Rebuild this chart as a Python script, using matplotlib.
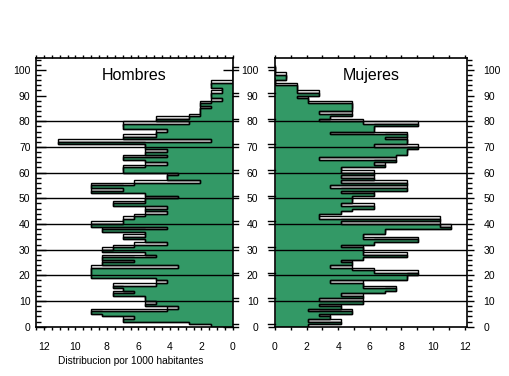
import numpy as np
import matplotlib.pyplot as plt
import matplotlib.transforms as mtransforms
from matplotlib.ticker import MultipleLocator

plt.rcParams['font.family'] = ['Liberation Sans', 'DejaVu Sans']

GREEN = '#339966'
UNIT = 0.695          # one person, per 1000 inhabitants

ages = np.arange(0, 101)

# counts per single year of age (0..100), drawn as value = count * UNIT
hombres = [2, 4, 10, 9, 12, 13, 6, 5, 8, 7,
           8, 8, 11, 9, 10, 11, 7, 6, 7, 13,
           13, 13, 13, 5, 12, 9, 12, 7, 8, 12,
           11, 9, 6, 8, 10, 8, 8, 12, 6, 13,
           10, 10, 9, 8, 6, 8, 6, 11, 8, 8,
           5, 8, 13, 10, 13, 9, 3, 6, 6, 5,
           10, 10, 8, 6, 8, 10, 6, 8, 6, 8,
           8, 16, 2, 10, 7, 7, 6, 10, 10, 4,
           7, 4, 3, 3, 3, 2, 3, 2, 1, 2,
           2, 1, 1, 2, 2, 0, 0, 0, 0, 0, 0]
mujeres = [3, 6, 3, 5, 4, 7, 3, 6, 4, 8,
           4, 8, 6, 10, 11, 8, 8, 5, 12, 12,
           13, 9, 7, 5, 7, 6, 8, 12, 8, 8,
           8, 6, 9, 13, 8, 8, 10, 10, 16, 15,
           6, 15, 4, 4, 6, 7, 9, 6, 7, 7,
           7, 9, 6, 12, 5, 12, 6, 9, 6, 9,
           6, 6, 10, 9, 11, 4, 11, 12, 12, 13,
           9, 12, 12, 10, 12, 5, 9, 9, 13, 8,
           4, 5, 7, 4, 7, 7, 7, 3, 3, 2,
           4, 2, 2, 2, 0, 0, 1, 1, 0, 0, 0]

W, H = 509, 376
fig = plt.figure(figsize=(W / 100, H / 100), dpi=100)
fig.patch.set_facecolor('white')


def panel(x0, x1):
    return fig.add_axes([x0 / W, 1 - 326.7 / H, (x1 - x0) / W, (326.7 - 58.3) / H])


ax_h = panel(36, 233)
ax_m = panel(275, 467)


def draw_pyramid(ax, counts):
    vals = np.array(counts) * UNIT
    edges = np.arange(0, len(vals) + 1)
    # outline, one year above the filled area
    ax.stairs(vals, edges + 1, orientation='horizontal', fill=False,
              color='black', linewidth=1.0, baseline=None, zorder=2)
    ax.stairs(vals, edges, orientation='horizontal', fill=True,
              facecolor=GREEN, edgecolor='black', linewidth=1.0, zorder=3)
    ax.stairs(vals, edges, orientation='horizontal', fill=False,
              color='black', linewidth=1.0, baseline=None, zorder=3)
    for a in range(10, 90, 10):
        ax.axhline(a, color='black', linewidth=1.0, zorder=4)
    ax.set_ylim(0, 104.5)
    ax.yaxis.set_major_locator(MultipleLocator(10))
    for sp in ax.spines.values():
        sp.set_linewidth(1.2)
        sp.set_zorder(5)


def side_ticks(ax, x0, x1, marks):
    # short ticks on the inner sides, drawn in axes-x / data-y coordinates
    tr = mtransforms.blended_transform_factory(ax.transAxes, ax.transData)
    for a in marks:
        ax.plot([x0, x1], [a, a], color='black', linewidth=1.0,
                transform=tr, clip_on=False, zorder=6)


draw_pyramid(ax_h, hombres)
draw_pyramid(ax_m, mujeres)

# Hombres: reversed axis
ax_h.set_xlim(12.5, 0)
ax_h.xaxis.set_major_locator(MultipleLocator(2))
ax_h.xaxis.set_minor_locator(MultipleLocator(0.5))
ax_h.yaxis.set_minor_locator(MultipleLocator(2))
ax_h.tick_params(axis='y', which='major', left=True, right=True, direction='in',
                 length=7, width=1, labelsize=7.5, pad=4)
ax_h.tick_params(axis='y', which='minor', left=True, right=False, direction='in',
                 length=3.5, width=1)
ax_h.tick_params(axis='x', which='both', top=True, bottom=True, direction='out',
                 length=2.2, width=1, labelsize=7.5, pad=9)
ax_h.text(0.5, 0.937, 'Hombres', transform=ax_h.transAxes, ha='center',
          va='center', fontsize=11.5)
ax_h.set_xlabel('Distribucion por 1000 habitantes', fontsize=7.3,
                labelpad=3, loc='left')
ax_h.xaxis.label.set_position((0.11, 0))
side_ticks(ax_h, 1.0, 1.0 + 5 / 197, [a + d for a in range(0, 101, 10) for d in (0, 1)])

# Mujeres
ax_m.set_xlim(0, 12.15)
ax_m.xaxis.set_major_locator(MultipleLocator(2))
ax_m.xaxis.set_minor_locator(MultipleLocator(1))
ax_m.yaxis.set_minor_locator(MultipleLocator(2))
ax_m.tick_params(axis='y', which='major', left=True, right=True, labelleft=True,
                 labelright=True, direction='out', length=5, width=1,
                 labelsize=7.5, pad=7)
ax_m.tick_params(axis='y', which='minor', left=False, right=True,
                 direction='out', length=3.5, width=1)
ax_m.tick_params(axis='x', which='both', top=True, bottom=True, direction='out',
                 length=2.2, width=1, labelsize=7.5, pad=9)
ax_m.text(0.5, 0.937, 'Mujeres', transform=ax_m.transAxes, ha='center',
          va='center', fontsize=11.5)
side_ticks(ax_m, -7 / 192, 0.0, [a + 1 for a in range(0, 101, 10)])

fig.savefig('out.png', dpi=100)
